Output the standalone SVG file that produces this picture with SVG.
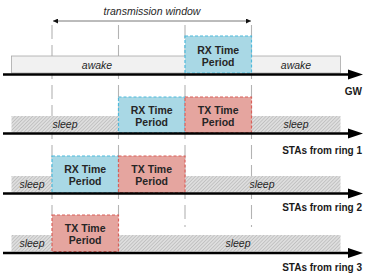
<svg xmlns="http://www.w3.org/2000/svg" width="382" height="277" viewBox="0 0 382 277">
<defs>
<pattern id="hatch" width="2.5" height="2.5" patternUnits="userSpaceOnUse" patternTransform="rotate(45)">
<rect width="2.5" height="2.5" fill="#dedede"/>
<line x1="0" y1="0" x2="0" y2="2.5" stroke="#ababab" stroke-width="1"/>
</pattern>
<marker id="ah" viewBox="0 0 10 10" refX="10" refY="5" markerWidth="6" markerHeight="5" orient="auto-start-reverse" markerUnits="userSpaceOnUse">
<path d="M0,0 L10,5 L0,10 z" fill="#111"/>
</marker>
</defs>
<style>
.guide{stroke:#b3b3b3;stroke-width:1.1;stroke-dasharray:14 6;fill:none}
.axis{stroke:#000;stroke-width:2.5}
.head{fill:#000}
.awake{fill:#f1f1f1;stroke:#a8a8a8;stroke-width:0.8}
.sleep{fill:url(#hatch)}
.rx{fill:#a9d8e5;stroke:#4fbadb;stroke-width:1.2;stroke-dasharray:3 2}
.tx{fill:#e5a59f;stroke:#d9605a;stroke-width:1.2;stroke-dasharray:3 2}
.bt{font-family:"Liberation Sans",Arial,sans-serif;font-size:10.5px;font-weight:bold;fill:#262626;text-anchor:middle}
.it{font-family:"Liberation Sans",Arial,sans-serif;font-size:10.5px;font-style:italic;fill:#262626;text-anchor:middle}
.lbl{font-family:"Liberation Sans",Arial,sans-serif;font-size:10px;font-weight:bold;fill:#1a1a1a;text-anchor:end}
</style>
<rect width="382" height="277" fill="#fff"/>
<g id="connectors">
<line class="guide" x1="52" y1="25" x2="52" y2="215"/>
<line class="guide" x1="118.5" y1="25" x2="118.5" y2="215"/>
<line class="guide" x1="185" y1="25" x2="185" y2="227"/>
<line class="guide" x1="251.5" y1="25" x2="251.5" y2="227"/>
<line x1="53" y1="21" x2="251" y2="21" stroke="#555" stroke-width="0.8" marker-start="url(#ah)" marker-end="url(#ah)"/>
</g>
<g id="window-label"><text class="it" x="152" y="15">transmission window</text></g>

<g id="gw-row">
<rect class="awake" x="11.5" y="56" width="329" height="17"/>
<text class="it" x="97" y="68.5">awake</text>
<text class="it" x="296" y="68.5">awake</text>
<g id="gw-rx"><rect class="rx" x="185" y="36" width="66.5" height="37"/>
<text class="bt" x="218.2" y="53.5">RX Time</text><text class="bt" x="218.2" y="65.5">Period</text></g>
</g>

<g id="ring1-row">
<rect class="sleep" x="11.5" y="116" width="329" height="16.5"/>
<text class="it" x="65" y="128">sleep</text>
<text class="it" x="296" y="128">sleep</text>
<g id="r1-rx"><rect class="rx" x="118.5" y="97" width="66.5" height="35.5"/>
<text class="bt" x="151.7" y="113.5">RX Time</text><text class="bt" x="151.7" y="125.5">Period</text></g>
<g id="r1-tx"><rect class="tx" x="185" y="97" width="66.5" height="35.5"/>
<text class="bt" x="218.2" y="113.5">TX Time</text><text class="bt" x="218.2" y="125.5">Period</text></g>
</g>

<g id="ring2-row">
<rect class="sleep" x="11.5" y="176" width="329" height="16.5"/>
<text class="it" x="32" y="188">sleep</text>
<text class="it" x="262" y="188">sleep</text>
<g id="r2-rx"><rect class="rx" x="52" y="156" width="66.5" height="36.5"/>
<text class="bt" x="85.2" y="173">RX Time</text><text class="bt" x="85.2" y="185">Period</text></g>
<g id="r2-tx"><rect class="tx" x="118.5" y="156" width="66.5" height="36.5"/>
<text class="bt" x="151.7" y="173">TX Time</text><text class="bt" x="151.7" y="185">Period</text></g>
</g>

<g id="ring3-row">
<rect class="sleep" x="11.5" y="235" width="329" height="16.5"/>
<text class="it" x="32" y="247">sleep</text>
<text class="it" x="238" y="247">sleep</text>
<g id="r3-tx"><rect class="tx" x="52" y="215" width="66.5" height="36.5"/>
<text class="bt" x="85.2" y="232">TX Time</text><text class="bt" x="85.2" y="244">Period</text></g>
</g>

<g id="axes">
<line class="axis" x1="3" y1="74.5" x2="350" y2="74.5"/><polygon class="head" points="348,69.5 363,74.5 348,79.5"/>
<line class="axis" x1="3" y1="133.5" x2="350" y2="133.5"/><polygon class="head" points="348,128.5 363,133.5 348,138.5"/>
<line class="axis" x1="3" y1="193.5" x2="350" y2="193.5"/><polygon class="head" points="348,188.5 363,193.5 348,198.5"/>
<line class="axis" x1="3" y1="253" x2="350" y2="253"/><polygon class="head" points="348,248 363,253 348,258"/>
</g>
<g id="labels">
<text class="lbl" x="362" y="94.5">GW</text>
<text class="lbl" x="362" y="154">STAs from ring 1</text>
<text class="lbl" x="362" y="210.5">STAs from ring 2</text>
<text class="lbl" x="362" y="271">STAs from ring 3</text>
</g>
</svg>
